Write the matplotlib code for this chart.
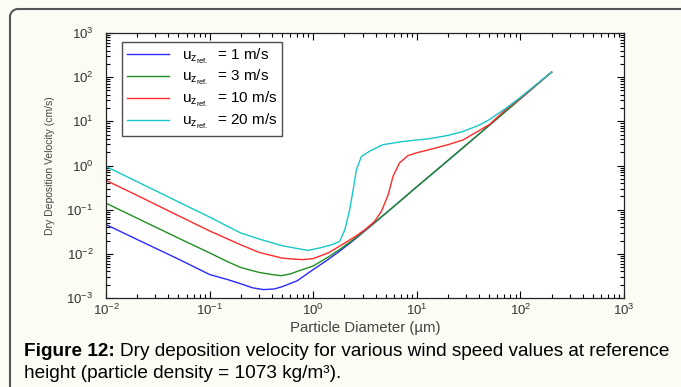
import matplotlib
matplotlib.use("Agg")
import matplotlib.pyplot as plt
from matplotlib.lines import Line2D
import numpy as np

plt.rcParams['font.family'] = ['Liberation Sans', 'DejaVu Sans']
plt.rcParams['mathtext.fontset'] = 'custom'
plt.rcParams['mathtext.rm'] = 'Liberation Sans'
plt.rcParams['mathtext.it'] = 'Liberation Sans'
plt.rcParams['mathtext.default'] = 'regular'

# data (diameter in um, velocity in cm/s)
d_blue = [0.01, 0.02, 0.05, 0.1, 0.15, 0.2, 0.26, 0.33, 0.42, 0.5, 0.7, 1.0, 1.4, 1.8, 2.5, 3.9, 6, 10, 20, 50, 100, 200]
v_blue = [0.046, 0.0211, 0.0076, 0.0034, 0.0026, 0.0021, 0.0017, 0.00155, 0.0016, 0.0018, 0.00245, 0.0044, 0.0075, 0.0115, 0.021, 0.050, 0.118, 0.33, 1.3, 8.1, 32.5, 130]

d_green = [0.01, 0.02, 0.05, 0.1, 0.15, 0.2, 0.3, 0.4, 0.49, 0.6, 0.7, 1.0, 1.4, 1.8, 2.5, 3.9, 6, 10, 20, 50, 100, 200]
v_green = [0.14, 0.064, 0.0227, 0.0105, 0.0066, 0.0049, 0.0038, 0.0034, 0.0032, 0.0035, 0.0040, 0.0053, 0.0085, 0.0125, 0.022, 0.051, 0.118, 0.33, 1.3, 8.1, 32.5, 130]

d_red = [0.01, 0.02, 0.05, 0.1, 0.2, 0.3, 0.5, 0.65, 0.8, 1.0, 1.4, 1.8, 2.5, 3.2, 3.9, 4.55, 5.3, 5.9, 6.8, 8.2, 10, 12.4, 20, 28, 50, 73, 100, 200]
v_red = [0.46, 0.21, 0.073, 0.033, 0.016, 0.0108, 0.008, 0.0076, 0.0074, 0.0078, 0.0105, 0.015, 0.024, 0.036, 0.054, 0.091, 0.22, 0.57, 1.14, 1.67, 1.95, 2.2, 2.96, 3.8, 8.4, 19, 33.5, 130]

d_cyan = [0.01, 0.02, 0.05, 0.1, 0.2, 0.3, 0.5, 0.7, 0.89, 1.16, 1.5, 1.8, 2.02, 2.25, 2.43, 2.61, 2.92, 3.5, 4.7, 7.4, 13.3, 20, 28, 40, 50, 73, 100, 200]
v_cyan = [0.95, 0.43, 0.15, 0.068, 0.0296, 0.0217, 0.0153, 0.0132, 0.012, 0.0136, 0.016, 0.019, 0.035, 0.1, 0.28, 0.8, 1.6, 2.1, 2.96, 3.5, 4.05, 4.8, 5.9, 8.2, 10.9, 20, 35, 130]

labels = ['1', '3', '10', '20']
colors = ['#2a2aff', '#1f8f1f', '#ff2a2a', '#18c8c8']

W, H = 681, 387
fig = plt.figure(figsize=(6.81, 3.87), dpi=100)
fig.patch.set_facecolor('#fdfcf4')

# frame around the figure: left and top edges with a rounded corner
r = 8
ang = np.linspace(np.pi, np.pi / 2, 20)
fx = [10, 10] + list(10 + r + r * np.cos(ang)) + [W + 5]
fy = [H + 5, 9 + r] + list(9 + r - r * np.sin(ang)) + [9]
fig.add_artist(Line2D([x / W for x in fx], [1 - y / H for y in fy],
                      transform=fig.transFigure, color='#555555', linewidth=1.5))

ax = fig.add_axes([106 / W, 1 - 298 / H, 518 / W, 265 / H])
ax.set_facecolor('white')

series = [(d_blue, v_blue), (d_green, v_green), (d_red, v_red), (d_cyan, v_cyan)]
for (d, v), lab, c in zip(series, labels, colors):
    ax.plot(d, v, color=c, linewidth=1.0,
            label=r'$u_{z_{ref.}}$  = ' + lab + ' m/s')

ax.set_xscale('log')
ax.set_yscale('log')
ax.set_xlim(1e-2, 1e3)
ax.set_ylim(1e-3, 1e3)
ax.tick_params(which='both', direction='in', top=True, right=True,
               labelsize=9.5, labelcolor='#333333', width=0.8)
ax.tick_params(which='major', length=5)
ax.tick_params(which='minor', length=3)
ax.tick_params(axis='y', pad=9)
for s in ax.spines.values():
    s.set_linewidth(0.9)
    s.set_color('#222222')

ax.set_xlabel('Particle Diameter (\u00b5m)', fontsize=10.8, color='#444444', labelpad=2)
ax.set_ylabel('Dry Deposition Velocity (cm/s)', fontsize=7.5, color='#444444', labelpad=8)

leg = ax.legend(loc='upper left', fontsize=11, frameon=True, fancybox=False,
                edgecolor='#222222', handlelength=2.8, borderpad=0.3,
                labelspacing=0.18, borderaxespad=0, handletextpad=0.8,
                bbox_to_anchor=(16 / 518, 1 - 9 / 265))
leg.get_frame().set_linewidth(1.0)

# caption: bold lead-in followed by regular text
renderer = fig.canvas.get_renderer()
t1 = fig.text(24 / W, 1 - 351 / H, 'Figure 12:', fontsize=13.7,
              fontweight='bold', va='center', ha='left')
bb = t1.get_window_extent(renderer)
fig.text(bb.x1 / W + 0.008, 1 - 351 / H,
         'Dry deposition velocity for various wind speed values at reference',
         fontsize=13.7, va='center', ha='left')
fig.text(24 / W, 1 - 374 / H,
         'height (particle density = 1073 kg/m\u00b3).',
         fontsize=13.7, va='center', ha='left')

fig.savefig('out.png', dpi=100, facecolor=fig.get_facecolor())
